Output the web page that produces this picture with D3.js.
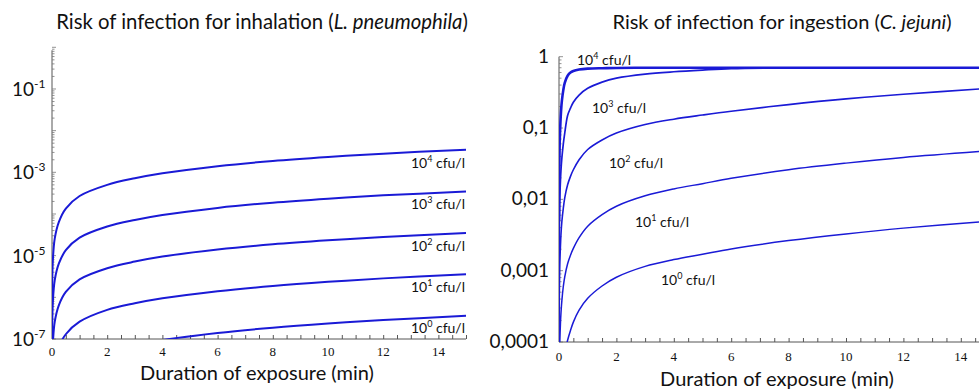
<!DOCTYPE html>
<html><head><meta charset="utf-8">
<script src="https://cdn.jsdelivr.net/npm/d3@7"></script>
<style>
html,body{margin:0;padding:0;background:#fff;overflow:hidden}
svg{display:block}
text{font-family:Lato,"Open Sans",sans-serif;fill:#111}
.num{font-family:"Liberation Serif","DejaVu Serif",serif}
</style></head>
<body>
<svg id="c" width="979" height="389"></svg>
<script>
// ---------- data ----------
const timeLeft = [0.002, 0.01, 0.03, 0.1, 0.25, 0.5, 1, 2, 3, 4, 6, 8, 10, 12, 15];
const inh10e4 = [5e-7, 2.5e-6, 7.5e-6, 2.6e-5, 6.5e-5, 1.35e-4, 2.7e-4, 5.0e-4, 7.2e-4, 9.5e-4, 1.4e-3, 1.87e-3, 2.33e-3, 2.8e-3, 3.5e-3];
const inh10e3 = [5e-8, 2.5e-7, 7.5e-7, 2.6e-6, 6.5e-6, 1.35e-5, 2.7e-5, 5.0e-5, 7.2e-5, 9.5e-5, 1.4e-4, 1.87e-4, 2.33e-4, 2.8e-4, 3.45e-4];
const inh10e2 = [5e-9, 2.5e-8, 7.5e-8, 2.6e-7, 6.5e-7, 1.35e-6, 2.7e-6, 5.0e-6, 7.2e-6, 9.5e-6, 1.4e-5, 1.87e-5, 2.33e-5, 2.8e-5, 3.5e-5];
const inh10e1 = [5e-10, 2.5e-9, 7.5e-9, 2.6e-8, 6.5e-8, 1.3e-7, 2.6e-7, 5.0e-7, 7.2e-7, 9.5e-7, 1.4e-6, 1.87e-6, 2.35e-6, 2.85e-6, 3.6e-6];
const inh10e0 = [5e-11, 2.5e-10, 7.5e-10, 2.6e-9, 6.5e-9, 1.3e-8, 2.6e-8, 5.0e-8, 7.2e-8, 9.5e-8, 1.4e-7, 1.87e-7, 2.35e-7, 2.85e-7, 3.6e-7];

const timeRight = [0.002, 0.005, 0.01, 0.02, 0.03, 0.05, 0.07, 0.1, 0.15, 0.2, 0.3, 0.4, 0.5, 0.7, 1, 1.5, 2, 3, 4, 5, 6, 8, 10, 12, 15];
const ing10e4 = [0.005, 0.012, 0.025, 0.05, 0.075, 0.12, 0.17, 0.24, 0.34, 0.43, 0.54, 0.60, 0.63, 0.66, 0.68, 0.69, 0.695, 0.70, 0.70, 0.70, 0.70, 0.70, 0.70, 0.70, 0.70];
const ing10e3 = [7e-4, 1.8e-3, 3.6e-3, 7.2e-3, 0.011, 0.018, 0.026, 0.038, 0.06, 0.085, 0.15, 0.19, 0.23, 0.29, 0.36, 0.44, 0.50, 0.57, 0.615, 0.65, 0.68, 0.697, 0.70, 0.70, 0.70];
const ing10e2 = [8e-5, 2e-4, 4e-4, 8.5e-4, 1.3e-3, 2.2e-3, 3.3e-3, 4.9e-3, 7.5e-3, 0.0105, 0.016, 0.021, 0.026, 0.036, 0.050, 0.068, 0.085, 0.112, 0.133, 0.152, 0.172, 0.213, 0.256, 0.297, 0.36];
const ing10e1 = [7e-6, 1.75e-5, 3.5e-5, 7e-5, 1.05e-4, 1.8e-4, 2.6e-4, 3.8e-4, 6.0e-4, 8.2e-4, 1.25e-3, 1.65e-3, 2.05e-3, 2.9e-3, 4.2e-3, 6.1e-3, 8.0e-3, 1.12e-2, 1.4e-2, 1.66e-2, 1.97e-2, 2.6e-2, 3.22e-2, 3.87e-2, 4.8e-2];
const ing10e0 = [7e-7, 1.75e-6, 3.5e-6, 7e-6, 1.05e-5, 1.75e-5, 2.45e-5, 3.5e-5, 5.3e-5, 7.0e-5, 1.06e-4, 1.45e-4, 1.9e-4, 2.8e-4, 4.1e-4, 6.1e-4, 8.1e-4, 1.15e-3, 1.43e-3, 1.7e-3, 2.02e-3, 2.64e-3, 3.28e-3, 3.95e-3, 4.95e-3];

const seriesExponents = ["4", "3", "2", "1", "0"];
const xTickValues = [0, 2, 4, 6, 8, 10, 12, 14];
const leftYTicks = [1e-1, 1e-3, 1e-5, 1e-7];
const leftYExp = ["-1", "-3", "-5", "-7"];
const rightYTicks = [1, 0.1, 0.01, 0.001, 0.0001];
const rightYLabels = ["1", "0,1", "0,01", "0,001", "0,0001"];
const xTitle = "Duration of exposure (min)";

// ---------- drawing ----------
const svg = d3.select("#c");
const lineColor = "#1a1ad6";

function fitWidth(sel, w) {
  const n = sel.node();
  const cur = n.getComputedTextLength();
  const fs = parseFloat(sel.attr("font-size"));
  sel.attr("font-size", fs * w / cur);
}

function panel(cfg) {
  const g = svg.append("g");
  const x = d3.scaleLinear().domain([0, 15]).range(cfg.xr);
  const y = d3.scaleLog().domain(cfg.yd).range(cfg.yr);
  const id = "clip" + cfg.name;
  svg.append("clipPath").attr("id", id).append("rect")
    .attr("x", cfg.xr[0]).attr("y", cfg.yr[1] - 2)
    .attr("width", cfg.xr[1] - cfg.xr[0] + 2).attr("height", cfg.yr[0] - cfg.yr[1] + 2);

  // x axis: ticks every 0.5 pointing up
  const xAxis = d3.axisBottom(x).tickValues(d3.range(0, 15.01, 0.5)).tickSize(-4).tickFormat("");
  const ga = g.append("g").attr("transform", `translate(0,${cfg.yr[0]})`).call(xAxis);
  ga.selectAll("path,line").attr("stroke", "#555").attr("stroke-width", 1);
  ga.select(".domain").attr("d", `M${cfg.xr[0]},0H${cfg.xr[1]}`);
  g.selectAll(".xl").data(xTickValues).enter().append("text").attr("class", "num")
    .attr("x", d => x(d)).attr("y", cfg.yr[0] + cfg.xlabDy).attr("text-anchor", "middle")
    .attr("font-size", 13).attr("fill", "#333").text(d => d);

  // y axis with log minor ticks pointing right
  const [lo, hi] = cfg.yd;
  const minors = [];
  for (let e = Math.round(Math.log10(lo)); e < Math.round(Math.log10(hi)); e++)
    for (let k = 1; k < 10; k++) minors.push(k * Math.pow(10, e));
  minors.push(hi);
  const ya = g.append("g").attr("transform", `translate(${cfg.xr[0]},0)`);
  ya.append("line").attr("x1", 0).attr("x2", 0).attr("y1", cfg.yr[1] - cfg.ytopExtra).attr("y2", cfg.yr[0]).attr("stroke", "#555");
  ya.selectAll("line.m").data(minors).enter().append("line")
    .attr("x1", 0).attr("x2", d => Math.abs(Math.log10(d) - Math.round(Math.log10(d))) < 1e-6 ? 4 : 2.5)
    .attr("y1", d => y(d)).attr("y2", d => y(d)).attr("stroke", "#777").attr("stroke-width", 0.8);

  cfg.yLabels(g, y);

  // curves
  const line = d3.line().x(d => x(d[0])).y(d => y(d[1])).curve(d3.curveCatmullRom.alpha(0.5));
  const cg = g.append("g").attr("clip-path", `url(#${id})`);
  cfg.series.forEach((s, i) => {
    cg.append("path").datum(cfg.time.map((t, j) => [t, s[j]]))
      .attr("d", line).attr("fill", "none").attr("stroke", lineColor)
      .attr("stroke-width", cfg.widths[i]);
  });

  // curve labels
  cfg.labelPos.forEach((p, i) => {
    const t = g.append("text").attr("x", p[0]).attr("y", p[1]).attr("font-size", 14)
      .attr("text-anchor", cfg.labelAnchor);
    t.append("tspan").text("10");
    t.append("tspan").attr("font-size", 9).attr("dy", -6).text(seriesExponents[i]);
    t.append("tspan").attr("dy", 6).text(" cfu/l");
  });

  // titles
  const tt = g.append("text").attr("x", cfg.titleX).attr("y", 29).attr("font-size", 19).attr("text-anchor", "middle");
  tt.append("tspan").text(cfg.title[0]);
  tt.append("tspan").attr("font-style", "italic").text(cfg.title[1]);
  tt.append("tspan").text(cfg.title[2]);
  fitWidth(tt, cfg.titleW);
  const xt = g.append("text").attr("x", cfg.xTitleX).attr("y", cfg.xTitleY).attr("font-size", 20)
    .attr("text-anchor", "middle").text(xTitle);
  fitWidth(xt, 234);
}

panel({
  name: "L",
  xr: [52, 466], yd: [1e-7, 1], yr: [339, 47.3], ytopExtra: -3, xlabDy: 17,
  time: timeLeft, series: [inh10e4, inh10e3, inh10e2, inh10e1, inh10e0],
  widths: [2, 2, 2, 2, 2],
  labelAnchor: "end",
  labelPos: [[465, 168], [465, 209], [465, 251], [465, 292], [465, 333]],
  title: ["Risk of infection for inhalation (", "L. pneumophila", ")"], titleX: 262, titleW: 412,
  xTitleX: 257, xTitleY: 380,
  yLabels: (g, y) => {
    leftYTicks.forEach((v, i) => {
      const t = g.append("text").attr("x", 12).attr("y", y(v) + 7).attr("font-size", 19);
      t.append("tspan").text("10");
      t.append("tspan").attr("font-size", 12).attr("dy", -8).text(leftYExp[i]);
    });
  }
});

panel({
  name: "R",
  xr: [559, 559 + 15 * 28.7], yd: [1e-4, 1], yr: [342, 56.7], ytopExtra: 0, xlabDy: 19,
  time: timeRight, series: [ing10e4, ing10e3, ing10e2, ing10e1, ing10e0],
  widths: [2.6, 1.7, 1.6, 1.5, 1.5],
  labelAnchor: "start",
  labelPos: [[577, 65], [592, 113], [609, 168], [635, 227], [661, 285]],
  title: ["Risk of infection for ingestion (", "C. jejuni", ")"], titleX: 782, titleW: 339,
  xTitleX: 777, xTitleY: 386,
  yLabels: (g, y) => {
    rightYTicks.forEach((v, i) => {
      g.append("text").attr("x", 549).attr("y", y(v) + 6).attr("font-size", 19)
        .attr("text-anchor", "end").text(rightYLabels[i]);
    });
  }
});
</script>
</body></html>
